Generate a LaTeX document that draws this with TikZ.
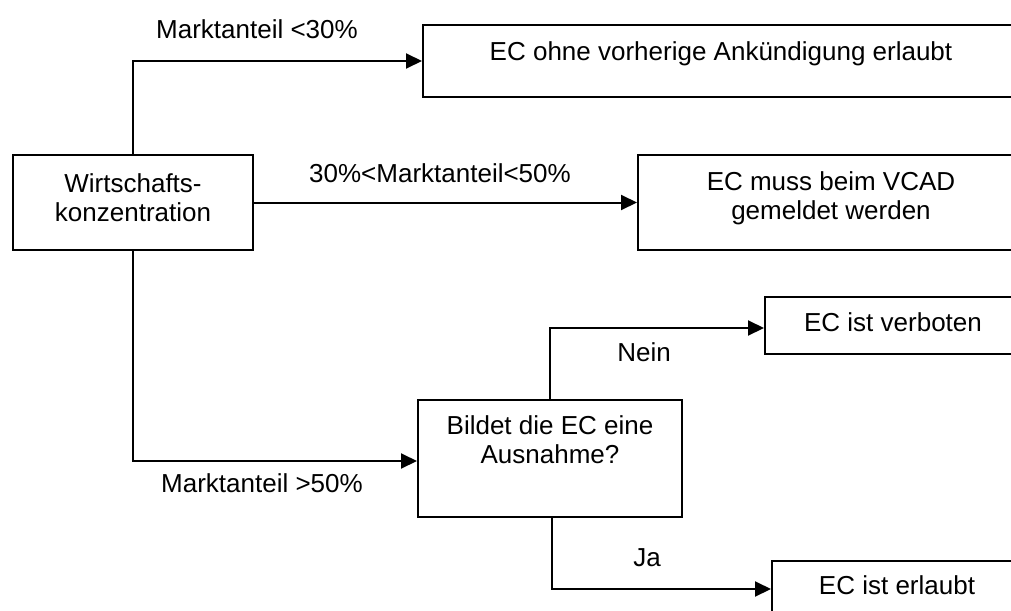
\documentclass[tikz,border=0pt]{standalone}
\usepackage{fontspec}
\setmainfont{Liberation Sans}
\usetikzlibrary{arrows.meta}
\begin{document}
\begin{tikzpicture}[x=1pt,y=-1pt,
  box/.style={draw,line width=2pt,inner sep=0pt},
  txt/.style={font=\fontsize{26}{29.5}\selectfont,inner sep=0pt,anchor=base},
  conn/.style={line width=2pt,-{Triangle[length=16pt,width=15pt]}}]
\useasboundingbox (0,0) rectangle (1011,610);
\clip (0,0) rectangle (1011,610);
% boxes
\node[box,minimum width=240pt,minimum height=95pt] (w) at (133,202.5) {};
\node[box,minimum width=596pt,minimum height=72pt] (b1) at (721,61) {};
\node[box,minimum width=386pt,minimum height=95pt] (b2) at (831,202.5) {};
\node[box,minimum width=264pt,minimum height=117pt] (b3) at (550,458.5) {};
\node[box,minimum width=256pt,minimum height=57pt] (b4) at (893,325.5) {};
\node[box,minimum width=250pt,minimum height=56pt] (b5) at (897,589) {};
% box texts
\node[txt] (tw) at ([yshift=-38pt]w.north) {\begin{tabular}[t]{@{}c@{}}Wirtschafts-\\konzentration\end{tabular}};
\node[txt] (t1) at ([yshift=-36pt]b1.north) {EC ohne vorherige Ankündigung erlaubt};
\node[txt] (t2) at ([yshift=-36pt]b2.north) {\begin{tabular}[t]{@{}c@{}}EC muss beim VCAD\\gemeldet werden\end{tabular}};
\node[txt] (t3) at ([yshift=-35pt]b3.north) {\begin{tabular}[t]{@{}c@{}}Bildet die EC eine\\Ausnahme?\end{tabular}};
\node[txt] (t4) at ([yshift=-35pt]b4.north) {EC ist verboten};
\node[txt] (t5) at ([yshift=-34pt]b5.north) {EC ist erlaubt};
% connectors
\draw[conn] (w.north) |- (b1.west);
\draw[conn] (w.east) -- (b2.west);
\draw[conn] (w.south) |- ([yshift=-2.5pt]b3.west);
\draw[conn] (b3.north) |- ([yshift=-2.5pt]b4.west);
\draw[conn] ([xshift=2pt]b3.south) |- (b5.west);
% connector labels
\node[txt] (l1) at (257,38) {Marktanteil <30\%};
\node[txt] (l2) at (440,182) {30\%<Marktanteil<50\%};
\node[txt] (l3) at (262,492) {Marktanteil >50\%};
\node[txt] (l4) at (644,361) {Nein};
\node[txt] (l5) at (647,566) {Ja};
\end{tikzpicture}
\end{document}
